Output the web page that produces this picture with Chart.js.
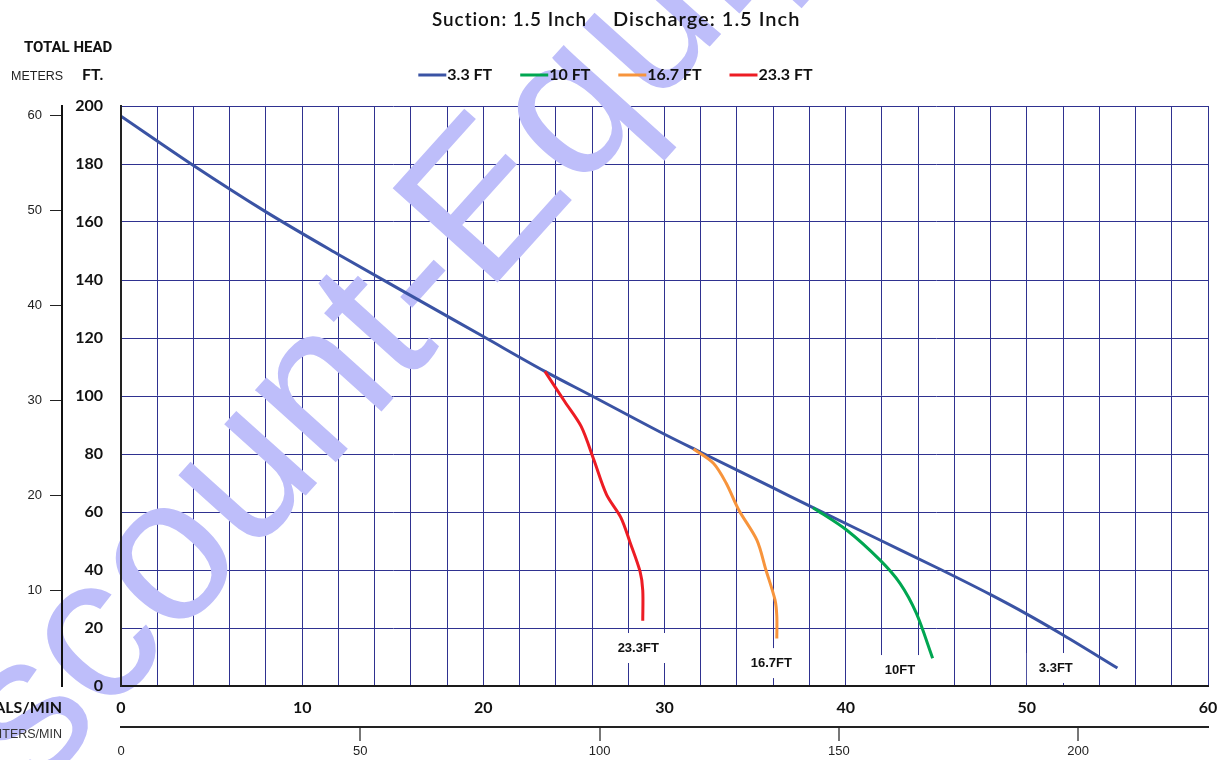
<!DOCTYPE html>
<html>
<head>
<meta charset="utf-8">
<script src="https://cdn.jsdelivr.net/npm/chart.js@4.4.1/dist/chart.umd.min.js"></script>
<style>
    html, body { margin: 0; padding: 0; background: #fff; }
</style>
</head>
<body>
<canvas id="js--chart" width="1219" height="760"></canvas>
<script>
/* pump curve data */
const curveNames = ["3.3 FT", "10 FT", "16.7 FT", "23.3 FT"];
const endLabels = ["3.3FT", "10FT", "16.7FT", "23.3FT"];
const curveColors = ["#3a53a4", "#00a651", "#f7943c", "#ed1c24"];

// gallons per minute / total head in feet
const flow33 = [0, 4, 8, 12, 16, 20, 23.4, 26, 30, 32, 36, 38.2, 42, 45.3, 48, 50, 52, 55];
const head33 = [196.5, 179.5, 163.5, 148.8, 134.6, 120.5, 108.5, 100, 86.8, 80.6, 68.3, 61.5, 50, 40, 31.5, 24.8, 17.6, 6.2];
const flow10 = [38.2, 40.05, 41.9, 43.0, 43.9, 44.8];
const head10 = [61.5, 53.8, 43.4, 35.4, 25.1, 9.6];
const flow167 = [31.6, 32.7, 33.4, 34.1, 35.1, 35.6, 36.1, 36.2, 36.2];
const head167 = [81.7, 76.8, 70, 60.7, 50.3, 40, 29.7, 24, 16.4];
const flow233 = [23.4, 24.5, 25.4, 26.1, 26.8, 27.6, 28.1, 28.65, 28.8, 28.8];
const head233 = [108.5, 98, 89.5, 78, 66, 58, 49.5, 39.5, 33, 22.5];

// where the "xxFT" tags sit (gal, ft)
const tagFlow = [51.6, 43.0, 35.9, 28.55];
const tagHead = [6.2, 5.5, 7.9, 13.1];

const galMax = 60;
const ftMax = 200;
const LPM_PER_GAL = 3.785411784;
const M_PER_FT = 0.3048;

const gridColor = "#2f3290";

function toPoints(xs, ys) {
    return xs.map((x, i) => ({ x: x, y: ys[i] }));
}

const series = [
    toPoints(flow33, head33),
    toPoints(flow10, head10),
    toPoints(flow167, head167),
    toPoints(flow233, head233)
];

/* watermark + tags, after grid but before the curves */
const underCurves = {
    id: "underCurves",
    beforeDatasetsDraw(chart) {
        const ctx = chart.ctx;
        ctx.save();
        ctx.font = '205px "Liberation Sans"';
        ctx.fillStyle = "rgb(190,190,250)";
        const ang = -48 * Math.PI / 180;
        const pre = ctx.measureText("Discount-").width + 16;
        const ex = 497, ey = 283;
        ctx.translate(ex - pre * Math.cos(ang), ey - pre * Math.sin(ang));
        ctx.rotate(ang);
        ctx.textBaseline = "alphabetic";
        ctx.fillText("Discount-Equipment", 0, 0);
        ctx.restore();

        const xs = chart.scales.x, ys = chart.scales.y;
        ctx.save();
        ctx.font = 'bold 13px "Liberation Sans"';
        ctx.textAlign = "center";
        ctx.textBaseline = "middle";
        endLabels.forEach((t, i) => {
            const px = xs.getPixelForValue(tagFlow[i]);
            const py = ys.getPixelForValue(tagHead[i]);
            const w = ctx.measureText(t).width + 24;
            ctx.fillStyle = "#fff";
            ctx.fillRect(px - w / 2, py - 15, w, 30);
            ctx.fillStyle = "#111";
            ctx.fillText(t, px, py);
        });
        ctx.restore();
    }
};

/* title, legend, axis captions */
const decorations = {
    id: "decorations",
    afterDraw(chart) {
        const ctx = chart.ctx;
        ctx.save();
        ctx.fillStyle = "#111";
        ctx.textBaseline = "middle";

        // title
        ctx.font = '600 20px "Lato"';
        ctx.textAlign = "left";
        ctx.letterSpacing = "1px";
        ctx.fillText("Suction: 1.5 Inch", 432, 20, 155);
        ctx.fillText("Discharge: 1.5 Inch", 613, 20, 190);
        ctx.letterSpacing = "0px";

        // legend
        ctx.font = 'bold 16px "Lato"';
        const lineW = 28, gap = 28;
        const widths = curveNames.map(n => lineW + 1 + ctx.measureText(n).width);
        const total = widths.reduce((a, b) => a + b, 0) + gap * (curveNames.length - 1);
        let lx = 615.5 - total / 2;
        curveNames.forEach((n, i) => {
            ctx.strokeStyle = curveColors[i];
            ctx.lineWidth = 3;
            ctx.beginPath();
            ctx.moveTo(lx, 75);
            ctx.lineTo(lx + lineW, 75);
            ctx.stroke();
            ctx.fillStyle = "#111";
            ctx.fillText(n, lx + lineW + 1, 75);
            lx += widths[i] + gap;
        });

        // axis captions
        ctx.font = 'bold 15px "Roboto"';
        ctx.fillText("TOTAL HEAD", 24, 48, 89);
        ctx.font = '12.5px "Liberation Sans"';
        ctx.fillStyle = "#222";
        ctx.fillText("METERS", 11, 77, 53);
        ctx.font = 'bold 16px "Lato"';
        ctx.fillStyle = "#111";
        ctx.fillText("FT.", 82, 75);

        ctx.textAlign = "right";
        ctx.font = 'bold 16px "Lato"';
        ctx.fillText("GALS/MIN", 62, 708);
        ctx.font = '12.5px "Liberation Sans"';
        ctx.fillStyle = "#333";
        ctx.fillText("LITERS/MIN", 62, 735);
        ctx.restore();
    }
};

Chart.defaults.font.family = "Lato";

const data = {
    datasets: curveNames.map((n, i) => ({
        label: n,
        data: series[i],
        borderColor: curveColors[i],
        backgroundColor: curveColors[i],
        borderWidth: 3,
        pointRadius: 0,
        tension: 0.3,
        cubicInterpolationMode: i === 0 ? "monotone" : "default",
        fill: false,
        order: i === 0 ? 1 : 0,
        xAxisID: "x",
        yAxisID: "y"
    }))
};

function fixBottom(h) {
    return s => {
        s.height = h;
        s.paddingLeft = 0;
        s.paddingRight = 0;
    };
}

const config = {
    type: "line",
    data: data,
    plugins: [underCurves, decorations],
    options: {
        responsive: false,
        animation: false,
        events: [],
        layout: { padding: { top: 106, right: 11, left: 0, bottom: 0 } },
        plugins: {
            legend: { display: false },
            title: { display: false },
            tooltip: { enabled: false }
        },
        scales: {
            x: {
                type: "linear",
                position: "bottom",
                weight: 0,
                min: 0,
                max: galMax,
                afterFit: fixBottom(41),
                grid: { color: gridColor, lineWidth: 1, drawTicks: false, z: -1 },
                border: { color: "#1a1a1a", width: 2, z: 1 },
                ticks: {
                    stepSize: 2, autoSkip: false, maxRotation: 0, padding: 12, z: 1,
                    color: "#111", font: { size: 16, weight: "bold" },
                    callback: v => (v % 10 === 0 ? v : "")
                }
            },
            x2: {
                type: "linear",
                position: "bottom",
                weight: 1,
                min: 0,
                max: galMax * LPM_PER_GAL,
                afterFit: fixBottom(33),
                grid: {
                    drawOnChartArea: false, lineWidth: 2, tickLength: 14, z: -1,
                    color: c => (c.tick && c.tick.value === 0 ? "rgba(0,0,0,0)" : "#777")
                },
                border: { color: "#222", width: 2, z: 1 },
                ticks: {
                    stepSize: 50, includeBounds: false, maxRotation: 0, padding: 3, z: 1,
                    color: "#222", font: { family: "Liberation Sans", size: 13 }
                }
            },
            y: {
                type: "linear",
                position: "left",
                weight: 0,
                min: 0,
                max: ftMax,
                afterFit: s => { s.width = 59; },
                grid: { color: gridColor, lineWidth: 1, drawTicks: false, z: -1 },
                border: { color: "#222", width: 2, z: 1 },
                ticks: {
                    stepSize: 20, padding: 18, z: 1,
                    color: "#111", font: { size: 16, weight: "bold" }
                }
            },
            ym: {
                type: "linear",
                position: "left",
                weight: 1,
                min: 0,
                max: ftMax * M_PER_FT,
                afterFit: s => { s.width = 62; },
                grid: { drawOnChartArea: false, color: "#222", lineWidth: 1, tickLength: 12, z: -1 },
                border: { color: "#111", width: 2, z: 1 },
                ticks: {
                    stepSize: 10, includeBounds: false, padding: 8, z: 1,
                    color: "#222", font: { family: "Liberation Sans", size: 13 },
                    callback: v => (v === 0 ? null : v)
                }
            }
        }
    }
};

new Chart(document.getElementById("js--chart"), config);
</script>
</body>
</html>
